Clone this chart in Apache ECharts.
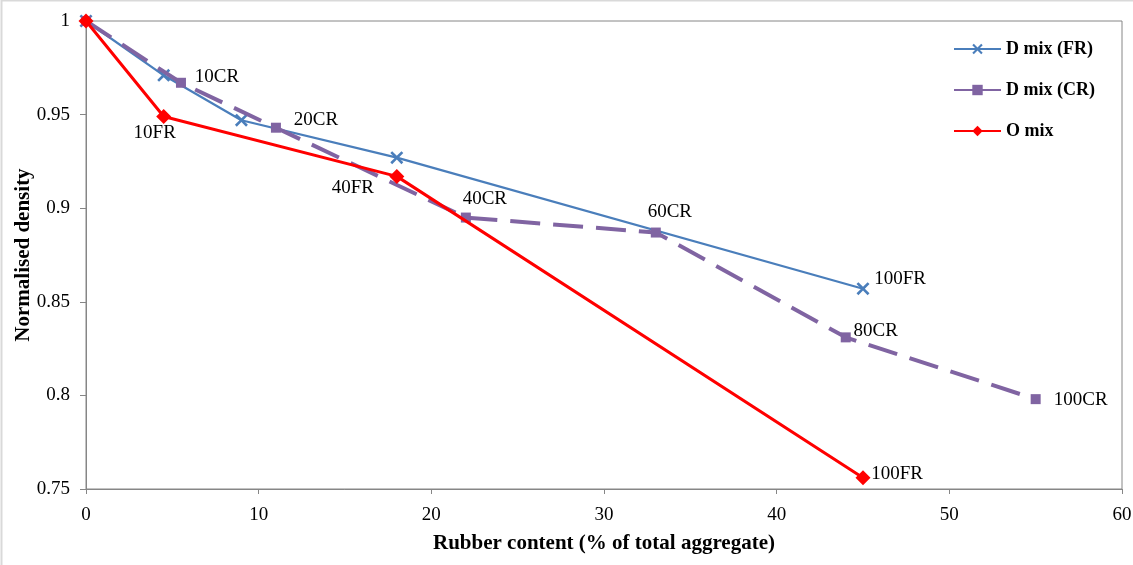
<!DOCTYPE html>
<html>
<head>
<meta charset="utf-8">
<title>Normalised density vs rubber content</title>
<script src="https://cdn.jsdelivr.net/npm/echarts@6/dist/echarts.min.js"></script>
<style>
  html, body { margin: 0; padding: 0; background: #fff; }
  #chart { width: 1133px; height: 565px; }
</style>
</head>
<body>
<div id="chart"></div>
<script>
// Rubber content (% of total aggregate) and normalised density per mix
const frContent = [0, 4.5, 9, 18, 45];
const frDensity = [1.0, 0.971, 0.947, 0.927, 0.857];
const frLabels  = ['', '', '', '', '100FR'];

const crContent = [0, 5.5, 11, 22, 33, 44, 55];
const crDensity = [1.0, 0.967, 0.943, 0.895, 0.887, 0.831, 0.798];
const crLabels  = ['', '10CR', '20CR', '40CR', '60CR', '80CR', '100CR'];

const oContent = [0, 4.5, 18, 45];
const oDensity = [1.0, 0.949, 0.917, 0.756];
const oLabels  = ['', '10FR', '40FR', '100FR'];

const seriesNames = ['D mix (FR)', 'D mix (CR)', 'O mix'];
const xTicks = { min: 0, max: 60, step: 10 };
const yTicks = { min: 0.75, max: 1, step: 0.05 };

// Label placement (offset of label centre from its point, px)
const labelOffsets = {
  fr: { '100FR': [37, -10] },
  cr: { '10CR': [36, -6], '20CR': [40, -8], '40CR': [19, -19], '60CR': [14, -21], '80CR': [30, -6], '100CR': [45, 1] },
  o:  { '10FR': [-9, 17], '40FR': [-44, 12], '100FR': [34, -4] }
};

const FONT = "'Liberation Serif', 'Times New Roman', serif";
const AXIS_GREY = '#868686';
const BLUE = '#4A7EBB';
const PURPLE = '#8064A2';
const RED = '#FF0000';

// Filled X-shaped marker
const crossPath = 'path://M2,0L7,5L12,0L14,2L9,7L14,12L12,14L7,9L2,14L0,12L5,7L0,2Z';

function buildData(xs, ys, labels, offsets) {
  return xs.map((x, i) => {
    const text = labels[i];
    const item = { value: [x, ys[i]] };
    if (text) {
      item.label = {
        show: true,
        position: 'inside',
        align: 'center',
        verticalAlign: 'middle',
        offset: offsets[text] || [0, 0],
        formatter: text,
        color: '#000',
        fontFamily: FONT,
        fontSize: 19
      };
    } else {
      item.label = { show: false };
    }
    return item;
  });
}

const chart = echarts.init(document.getElementById('chart'), null, { renderer: 'canvas' });

chart.setOption({
  animation: false,
  backgroundColor: '#fff',
  graphic: [{
    type: 'rect',
    shape: { x: 1.5, y: 0.5, width: 1140, height: 580 },
    style: { fill: 'none', stroke: '#d9d9d9', lineWidth: 2 },
    silent: true,
    z: -10
  }],
  grid: {
    left: 86, right: 11, top: 21, bottom: 76,
    outerBoundsMode: 'none',
    containLabel: false,
    show: true,
    borderColor: AXIS_GREY,
    borderWidth: 1,
    backgroundColor: 'transparent'
  },
  legend: {
    orient: 'vertical',
    left: 948,
    top: 34,
    itemWidth: 47,
    itemHeight: 13,
    itemGap: 21,
    data: seriesNames,
    lineStyle: { type: 'solid' },
    textStyle: {
      fontFamily: FONT,
      fontSize: 18,
      fontWeight: 'bold',
      color: '#000',
      lineHeight: 20
    }
  },
  xAxis: {
    type: 'value',
    min: xTicks.min,
    max: xTicks.max,
    interval: xTicks.step,
    name: 'Rubber content (% of total aggregate)',
    nameLocation: 'middle',
    nameGap: 44,
    nameMoveOverlap: false,
    nameTextStyle: { fontFamily: FONT, fontSize: 21, fontWeight: 'bold', color: '#000' },
    axisLine: { show: true, lineStyle: { color: AXIS_GREY, width: 1 } },
    axisTick: { show: true, inside: false, length: 5, lineStyle: { color: AXIS_GREY } },
    axisLabel: { fontFamily: FONT, fontSize: 19, color: '#000', margin: 17 },
    splitLine: { show: false }
  },
  yAxis: {
    type: 'value',
    min: yTicks.min,
    max: yTicks.max,
    interval: yTicks.step,
    name: 'Normalised density',
    nameLocation: 'middle',
    nameGap: 52,
    nameMoveOverlap: false,
    nameTextStyle: { fontFamily: FONT, fontSize: 21, fontWeight: 'bold', color: '#000' },
    axisLine: { show: true, lineStyle: { color: AXIS_GREY, width: 1 } },
    axisTick: { show: true, inside: false, length: 6, lineStyle: { color: AXIS_GREY } },
    axisLabel: { fontFamily: FONT, fontSize: 19, color: '#000', margin: 16 },
    splitLine: { show: false }
  },
  series: [
    {
      name: seriesNames[0],
      type: 'line',
      data: buildData(frContent, frDensity, frLabels, labelOffsets.fr),
      symbol: crossPath,
      symbolSize: 13,
      showAllSymbol: true,
      lineStyle: { color: BLUE, width: 2.2 },
      itemStyle: { color: BLUE },
      z: 2
    },
    {
      name: seriesNames[1],
      type: 'line',
      data: buildData(crContent, crDensity, crLabels, labelOffsets.cr),
      symbol: 'rect',
      symbolSize: 10,
      showAllSymbol: true,
      lineStyle: { color: PURPLE, width: 4, type: [30, 13] },
      itemStyle: { color: PURPLE },
      z: 3
    },
    {
      name: seriesNames[2],
      type: 'line',
      data: buildData(oContent, oDensity, oLabels, labelOffsets.o),
      symbol: 'diamond',
      symbolSize: 15,
      showAllSymbol: true,
      lineStyle: { color: RED, width: 3 },
      itemStyle: { color: RED },
      z: 4
    }
  ]
});
</script>
</body>
</html>
